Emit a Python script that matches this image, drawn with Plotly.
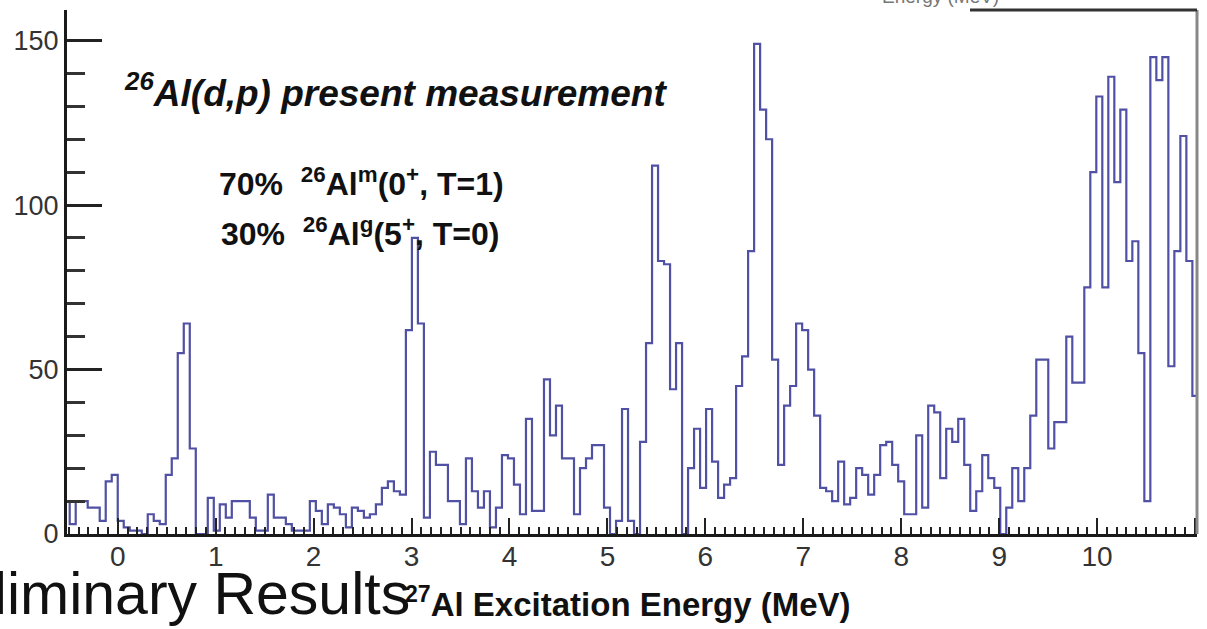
import plotly.graph_objects as go

# ---- data ----
BIN_START = -0.5517      # MeV, left edge of first visible bin
BIN_WIDTH = 0.0613       # MeV
counts = [
    10, 3, 10, 10, 8, 8, 4, 16, 18,              # k=-9..-1
    4, 2, 1, 1, 0, 6, 4, 3, 18, 23,              # 0..9
    55, 64, 26, 0, 0, 11, 1, 9, 5, 10,           # 10..19
    10, 10, 5, 1, 1, 12, 5, 5, 3, 1,             # 20..29
    1, 1, 10, 7, 3, 9, 8, 6, 2, 8,               # 30..39
    7, 5, 6, 9, 14, 16, 13, 12, 62, 90,          # 40..49
    64, 5, 25, 21, 21, 10, 10, 3, 23, 13,        # 50..59
    8, 13, 2, 8, 24, 23, 15, 6, 35, 7,           # 60..69
    7, 47, 30, 39, 23, 23, 6, 20, 23, 27,        # 70..79
    27, 8, 0, 4, 38, 4, 0, 28, 58, 112,          # 80..89
    83, 82, 44, 58, 0, 20, 32, 14, 38, 22,       # 90..99
    11, 15, 17, 45, 54, 86, 149, 129, 120, 53,   # 100..109
    21, 39, 45, 64, 62, 50, 36, 14, 13, 10,      # 110..119
    22, 9, 11, 20, 18, 12, 18, 27, 28, 21,       # 120..129
    16, 6, 6, 30, 8, 39, 37, 17, 32, 28,         # 130..139
    35, 21, 7, 13, 24, 17, 14, 0, 8, 20,         # 140..149
    10, 20, 36, 53, 53, 26, 34, 34, 60, 46,      # 150..159
    46, 75, 110, 133, 75, 139, 107, 129, 83, 89, # 160..169
    55, 10, 145, 138, 145, 51, 86, 121, 83, 42,  # 170..179
]
x_tick_values = list(range(0, 12))
y_tick_values = [0, 50, 100, 150]
x_range = [-0.518, 11.02]
y_range = [0, 159.3]

title_text = "<sup>26</sup>Al(d,p) present measurement"
line1_text = "70%  <sup>26</sup>Al<sup>m</sup>(0<sup>+</sup>, T=1)"
line2_text = "30%  <sup>26</sup>Al<sup>g</sup>(5<sup>+</sup>, T=0)"
xtitle_text = "<sup>27</sup>Al Excitation Energy (MeV)"
banner_text = "Preliminary Results"
top_text = "Energy (MeV)"

# ---- figure geometry ----
W, H = 1207, 629
ML, MR, MT, MB = 67, 10, 10, 95
PW, PH = W - ML - MR, H - MT - MB


def px(x):
    return (x - ML) / PW


def py(y):
    return (H - MB - y) / PH


FONT = "Liberation Sans, Arial, sans-serif"

edges = [BIN_START + i * BIN_WIDTH for i in range(len(counts) + 1)]
xs = edges[:-1] + [edges[-1], edges[-1]]
ys = counts + [counts[-1], 0]

fig = go.Figure()
fig.add_trace(go.Scatter(
    x=xs, y=ys, mode="lines", line=dict(shape="hv", color="#5050a4", width=2.2),
    hoverinfo="skip", showlegend=False,
))

fig.update_layout(
    width=W, height=H,
    margin=dict(l=ML, r=MR, t=MT, b=MB, pad=0, autoexpand=False),
    paper_bgcolor="white", plot_bgcolor="white",
    showlegend=False,
    xaxis=dict(
        range=x_range, tickvals=x_tick_values, ticktext=[str(v) for v in x_tick_values],
        ticks="inside", ticklen=16, tickwidth=2, tickcolor="#222",
        minor=dict(dtick=0.1, ticks="inside", ticklen=7, tickwidth=1.5, tickcolor="#222"),
        showline=True, linecolor="#1a1a1a", linewidth=3,
        showgrid=False, zeroline=False, automargin=False,
        ticklabelstandoff=-5,
        tickfont=dict(family=FONT, size=28, color="#333"),
    ),
    yaxis=dict(
        range=y_range, tickvals=y_tick_values, ticktext=[str(v) for v in y_tick_values],
        ticks="inside", ticklen=35, tickwidth=2.5, tickcolor="#222",
        minor=dict(dtick=10, ticks="inside", ticklen=18, tickwidth=2.5, tickcolor="#333"),
        showline=True, linecolor="#1a1a1a", linewidth=3,
        showgrid=False, zeroline=False, automargin=False,
        tickfont=dict(family=FONT, size=27, color="#333"),
    ),
    shapes=[
        dict(type="line", xref="paper", yref="paper", x0=1, x1=1, y0=0, y1=1,
             line=dict(color="#888", width=3)),
        dict(type="line", xref="paper", yref="paper", x0=px(970), x1=1, y0=1, y1=1,
             line=dict(color="#333", width=3)),
    ],
    annotations=[
        dict(text=title_text, xref="paper", yref="paper", x=px(122), y=py(90),
             xanchor="left", yanchor="middle", showarrow=False,
             font=dict(family=FONT, size=37, color="#111", weight="bold", style="italic")),
        dict(text=line1_text, xref="paper", yref="paper", x=px(217), y=py(182),
             xanchor="left", yanchor="middle", showarrow=False,
             font=dict(family=FONT, size=32, color="#111", weight="bold")),
        dict(text=line2_text, xref="paper", yref="paper", x=px(219), y=py(232),
             xanchor="left", yanchor="middle", showarrow=False,
             font=dict(family=FONT, size=32, color="#111", weight="bold")),
        dict(text=xtitle_text, xref="paper", yref="paper", x=px(403), y=py(602),
             xanchor="left", yanchor="middle", showarrow=False,
             font=dict(family=FONT, size=33, color="#111", weight="bold")),
        dict(text=banner_text, xref="paper", yref="paper", x=px(412), y=py(594),
             xanchor="right", yanchor="middle", showarrow=False,
             font=dict(family=FONT, size=59, color="#111")),
        dict(text=top_text, xref="paper", yref="paper", x=px(940), y=py(-3),
             xanchor="center", yanchor="middle", showarrow=False,
             font=dict(family=FONT, size=19, color="#777")),
    ],
)

fig.write_html("out.html", config={"displayModeBar": False},
               post_script="document.body.style.margin='0';")
